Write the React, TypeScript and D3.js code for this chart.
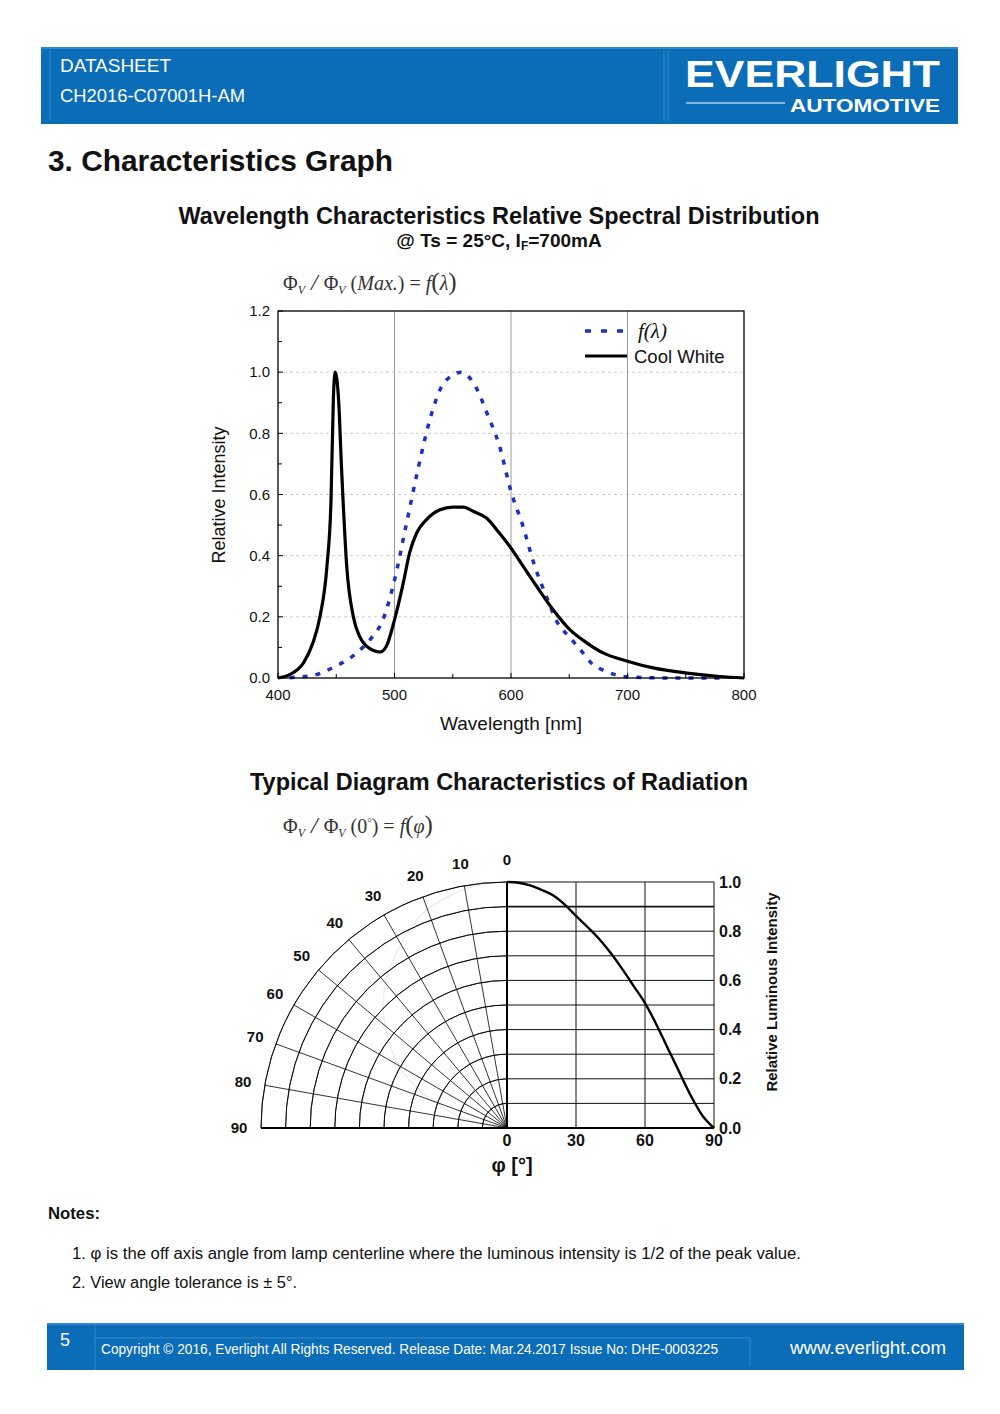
import React from "react";
import * as d3 from "d3";

// ---------- Data ----------
const cwWavelength = [400, 410, 422, 430, 436, 442, 445.5, 447.5, 449, 452, 454.5, 459, 464.7, 470, 476, 482, 487.5, 493, 500, 507.5, 513, 519, 527.5, 539, 550, 559, 567.5, 579, 590, 599, 610.5, 622, 636, 650.5, 665, 679, 700, 722, 751, 779, 800];
const cwValue = [0, 0.011, 0.05, 0.115, 0.2, 0.365, 0.58, 0.91, 1.0, 0.91, 0.69, 0.365, 0.2, 0.136, 0.104, 0.09, 0.085, 0.104, 0.19, 0.31, 0.41, 0.474, 0.518, 0.55, 0.559, 0.559, 0.545, 0.523, 0.474, 0.43, 0.365, 0.3, 0.224, 0.158, 0.115, 0.082, 0.055, 0.033, 0.016, 0.005, 0];

const vWavelength = [410, 420, 430, 440, 450, 460, 470, 480, 490, 500, 510, 520, 530, 540, 550, 557, 570, 580, 590, 600, 610, 620, 630, 640, 650, 660, 670, 680, 690, 700, 720, 740, 760, 780];
const vValue = [0.001, 0.004, 0.008, 0.021, 0.04, 0.06, 0.09, 0.13, 0.19, 0.32, 0.5, 0.68, 0.84, 0.95, 0.99, 1.0, 0.95, 0.86, 0.76, 0.61, 0.5, 0.37, 0.27, 0.18, 0.135, 0.09, 0.045, 0.024, 0.01, 0.004, 0.001, 0, 0, 0];

const xTicks = [400, 500, 600, 700, 800];
const xMinorTicks = [450, 550, 650, 750];
const yTicks = [0, 0.2, 0.4, 0.6, 0.8, 1.0, 1.2];
const yMinorTicks = [0.1, 0.3, 0.5, 0.7, 0.9, 1.1];

const radAngle = [0, 5, 10, 15, 20, 25, 30, 35, 40, 45, 50, 55, 60, 65, 70, 75, 80, 85, 90];
const radValue = [1.0, 0.997, 0.986, 0.968, 0.946, 0.909, 0.862, 0.817, 0.769, 0.712, 0.648, 0.578, 0.508, 0.42, 0.322, 0.226, 0.13, 0.05, 0];

const polarAngles = [0, 10, 20, 30, 40, 50, 60, 70, 80, 90];
const polarRings = [0.1, 0.2, 0.3, 0.4, 0.5, 0.6, 0.7, 0.8, 0.9, 1.0];
const rightXTicks = [0, 30, 60, 90];
const rightYTicks = [0, 0.2, 0.4, 0.6, 0.8, 1.0];

const BLUE = "#0b6cb7";
const SANS = "'Liberation Sans', Arial, sans-serif";
const NARROW = "'Liberation Sans Narrow', 'Liberation Sans', Arial, sans-serif";
const SERIF = "'Liberation Serif', 'Times New Roman', serif";

export default function App() {
  // Spectral chart scales
  const x = d3.scaleLinear().domain([400, 800]).range([278, 744]);
  const y = d3.scaleLinear().domain([0, 1.2]).range([678, 311]);

  const cwData = cwWavelength.map((w, i) => [w, cwValue[i]] as [number, number]);
  const vData = vWavelength.map((w, i) => [w, vValue[i]] as [number, number]);
  const line = d3
    .line<[number, number]>()
    .x((d) => x(d[0]))
    .y((d) => y(d[1]))
    .curve(d3.curveMonotoneX);

  // Polar
  const cx = 507;
  const cy = 1128;
  const r = d3.scaleLinear().domain([0, 1]).range([0, 246]);
  const toRad = (deg: number) => (deg * Math.PI) / 180;
  const px = (deg: number, v: number) => cx - r(v) * Math.sin(toRad(deg));
  const py = (deg: number, v: number) => cy - r(v) * Math.cos(toRad(deg));
  const arc = d3.arc();
  const polarCurve = d3
    .line<number>()
    .x((_, i) => px(radAngle[i], radValue[i]))
    .y((_, i) => py(radAngle[i], radValue[i]))
    .curve(d3.curveCatmullRom);

  // Right cartesian
  const xr = d3.scaleLinear().domain([0, 90]).range([507, 714]);
  const yr = d3.scaleLinear().domain([0, 1]).range([1128, 882]);
  const radLine = d3
    .line<number>()
    .x((_, i) => xr(radAngle[i]))
    .y((_, i) => yr(radValue[i]))
    .curve(d3.curveMonotoneX);

  const Formula = ({ yPos, children }: { yPos: number; children: React.ReactNode }) => (
    <text x={283} y={yPos} fontSize={20} fontFamily={SERIF} fill="#333">
      Φ<tspan fontSize={12} fontStyle="italic" dy={4}>V</tspan>
      <tspan dy={-4} fontSize={24} fontStyle="italic"> / </tspan>Φ<tspan fontSize={12} fontStyle="italic" dy={4}>V</tspan>
      <tspan dy={-4}> </tspan>
      {children}
    </text>
  );

  return (
    <svg
      width={1000}
      height={1414}
      viewBox="0 0 1000 1414"
      style={{ position: "absolute", left: 0, top: 0, background: "#fff" }}
      fontFamily={SANS}
    >
      <rect x={0} y={0} width={1000} height={1414} fill="#fff" />

      {/* Header */}
      <rect x={41} y={47} width={917} height={77} fill={BLUE} />
      <line x1={41} y1={48} x2={958} y2={48} stroke="#5aa3dc" strokeWidth={1} />
      <line x1={50} y1={50} x2={50} y2={121} stroke="#3f8fd0" strokeWidth={0.8} />
      <line x1={664} y1={50} x2={664} y2={121} stroke="#3f8fd0" strokeWidth={0.8} />
      <line x1={668} y1={50} x2={668} y2={121} stroke="#3f8fd0" strokeWidth={0.8} />
      <text x={60} y={72} fill="#fff" fontSize={18} fontFamily={NARROW} textLength={111} lengthAdjust="spacingAndGlyphs">DATASHEET</text>
      <text x={60} y={102} fill="#fff" fontSize={18} fontFamily={NARROW} textLength={185} lengthAdjust="spacingAndGlyphs">CH2016-C07001H-AM</text>
      <text x={685} y={87} fill="#fff" fontSize={36} fontWeight={900} textLength={255} lengthAdjust="spacingAndGlyphs">EVERLIGHT</text>
      <line x1={686} y1={103} x2={785} y2={103} stroke="#fff" strokeWidth={1.2} />
      <text x={790} y={112} fill="#fff" fontSize={19} fontWeight={700} textLength={150} lengthAdjust="spacingAndGlyphs">AUTOMOTIVE</text>

      {/* Section title */}
      <text x={48} y={171} fontSize={29} fontWeight={700} fill="#111" textLength={345} lengthAdjust="spacingAndGlyphs">3. Characteristics Graph</text>

      {/* Spectral chart titles */}
      <text x={499} y={224} fontSize={23} fontWeight={700} textAnchor="middle" fill="#111" textLength={641} lengthAdjust="spacingAndGlyphs">
        Wavelength Characteristics Relative Spectral Distribution
      </text>
      <text x={499} y={247} fontSize={19} fontWeight={700} textAnchor="middle" fill="#111">
        @ Ts = 25°C, I<tspan fontSize={12} dy={3}>F</tspan><tspan dy={-3}>=700mA</tspan>
      </text>

      {/* Formula 1 */}
      <Formula yPos={290}>
        (<tspan fontStyle="italic">Max.</tspan>) = <tspan fontStyle="italic">f</tspan>
        <tspan fontSize={25}>(</tspan><tspan fontStyle="italic">λ</tspan><tspan fontSize={25}>)</tspan>
      </Formula>

      {/* Spectral chart */}
      <g>
        {yTicks.filter((t) => t > 0 && t < 1.2).map((t) => (
          <line key={"hg" + t} x1={x(400)} x2={x(800)} y1={y(t)} y2={y(t)} stroke="#c0c0c0" strokeWidth={0.8} strokeDasharray="3,3" />
        ))}
        {xTicks.filter((t) => t > 400 && t < 800).map((t) => (
          <line key={"vg" + t} x1={x(t)} x2={x(t)} y1={y(0)} y2={y(1.2)} stroke="#9a9a9a" strokeWidth={1} />
        ))}
        <path d={line(vData) || ""} fill="none" stroke="#1f2fbf" strokeWidth={3.5} strokeDasharray="5,8" />
        <path d={line(cwData) || ""} fill="none" stroke="#000" strokeWidth={3.2} strokeLinejoin="round" />
        <rect x={x(400)} y={y(1.2)} width={x(800) - x(400)} height={y(0) - y(1.2)} fill="none" stroke="#000" strokeWidth={1.3} />
        {yTicks.map((t) => (
          <line key={"yt" + t} x1={x(400)} x2={x(400) + 5} y1={y(t)} y2={y(t)} stroke="#000" strokeWidth={1} />
        ))}
        {yMinorTicks.map((t) => (
          <line key={"ym" + t} x1={x(400)} x2={x(400) + 4} y1={y(t)} y2={y(t)} stroke="#000" strokeWidth={1} />
        ))}
        {xTicks.map((t) => (
          <line key={"xt" + t} x1={x(t)} x2={x(t)} y1={y(0)} y2={y(0) - 5} stroke="#000" strokeWidth={1} />
        ))}
        {xMinorTicks.map((t) => (
          <line key={"xm" + t} x1={x(t)} x2={x(t)} y1={y(0)} y2={y(0) - 4} stroke="#000" strokeWidth={1} />
        ))}
        {yTicks.map((t) => (
          <text key={"yl" + t} x={270} y={y(t)} dy="0.35em" textAnchor="end" fontSize={15} fill="#111">
            {t.toFixed(1)}
          </text>
        ))}
        {xTicks.map((t) => (
          <text key={"xl" + t} x={x(t)} y={700} textAnchor="middle" fontSize={15} fill="#111">
            {t}
          </text>
        ))}
        <text x={511} y={730} textAnchor="middle" fontSize={19} fill="#111">Wavelength [nm]</text>
        <text transform={`translate(225,495) rotate(-90)`} textAnchor="middle" fontSize={18} fill="#111">
          Relative Intensity
        </text>
        {/* legend */}
        <line x1={585} x2={624} y1={331} y2={331} stroke="#1f2fbf" strokeWidth={3.5} strokeDasharray="6,10" />
        <text x={638} y={338} fontSize={21} fontFamily={SERIF} fontStyle="italic" fill="#111">f(λ)</text>
        <line x1={585} x2={627} y1={356} y2={356} stroke="#000" strokeWidth={3.2} />
        <text x={634} y={363} fontSize={18.5} fill="#111">Cool White</text>
      </g>

      {/* Radiation title */}
      <text x={499} y={790} fontSize={23} fontWeight={700} textAnchor="middle" fill="#111" textLength={498} lengthAdjust="spacingAndGlyphs">
        Typical Diagram Characteristics of Radiation
      </text>
      <Formula yPos={833}>
        (0<tspan fontSize={11} dy={-7}>°</tspan><tspan dy={7}>) = </tspan><tspan fontStyle="italic">f</tspan>
        <tspan fontSize={25}>(</tspan><tspan fontStyle="italic">φ</tspan><tspan fontSize={25}>)</tspan>
      </Formula>

      {/* Polar quadrant */}
      <g>
        <path d={polarCurve(radAngle) || ""} fill="none" stroke="#ededed" strokeWidth={1.5} />
        {polarRings.map((v) => (
          <path
            key={"ring" + v}
            transform={`translate(${cx},${cy})`}
            d={arc({ innerRadius: r(v), outerRadius: r(v), startAngle: -Math.PI / 2, endAngle: 0 }) || ""}
            fill="none"
            stroke="#000"
            strokeWidth={0.8}
          />
        ))}
        {polarAngles.filter((a) => a > 0 && a < 90).map((a) => (
          <line key={"rad" + a} x1={cx} y1={cy} x2={px(a, 1)} y2={py(a, 1)} stroke="#000" strokeWidth={0.8} />
        ))}
        {polarAngles.map((a) => (
          <text
            key={"pl" + a}
            x={cx - 268 * Math.sin(toRad(a))}
            y={cy - 268 * Math.cos(toRad(a))}
            dy="0.35em"
            textAnchor="middle"
            fontSize={15}
            fontWeight={700}
            fill="#111"
          >
            {a}
          </text>
        ))}
      </g>

      {/* Right cartesian */}
      <g>
        {polarRings.map((v) => (
          <line key={"rh" + v} x1={xr(0)} x2={xr(90)} y1={yr(v)} y2={yr(v)} stroke="#111" strokeWidth={v === 0.9 ? 1.6 : 1} />
        ))}
        {rightXTicks.filter((t) => t > 0).map((t) => (
          <line key={"rv" + t} x1={xr(t)} x2={xr(t)} y1={yr(0)} y2={yr(1)} stroke="#111" strokeWidth={1} />
        ))}
        <path d={radLine(radAngle) || ""} fill="none" stroke="#000" strokeWidth={2.4} />
        {rightYTicks.map((t) => (
          <text key={"ry" + t} x={719} y={yr(t)} dy="0.35em" fontSize={16} fontWeight={700} fill="#111">
            {t.toFixed(1)}
          </text>
        ))}
        {rightXTicks.map((t) => (
          <text key={"rx" + t} x={xr(t)} y={1146} textAnchor="middle" fontSize={16} fontWeight={700} fill="#111">
            {t}
          </text>
        ))}
        <text x={512} y={1172} textAnchor="middle" fontSize={20} fontWeight={700} fill="#111">φ [°]</text>
        <text transform="translate(777,992) rotate(-90)" textAnchor="middle" fontSize={15} fontWeight={700} fill="#111">
          Relative Luminous Intensity
        </text>
      </g>
      <line x1={cx - r(1)} x2={xr(90)} y1={cy} y2={cy} stroke="#000" strokeWidth={2.2} />
      <line x1={cx} x2={cx} y1={yr(1)} y2={cy} stroke="#000" strokeWidth={2} />

      {/* Notes */}
      <text x={48} y={1219} fontSize={16} fontWeight={700} fontFamily={NARROW} fill="#111" textLength={52} lengthAdjust="spacingAndGlyphs">Notes:</text>
      <text x={72} y={1259} fontSize={16} fontFamily={NARROW} fill="#111" textLength={729} lengthAdjust="spacingAndGlyphs">
        1. φ is the off axis angle from lamp centerline where the luminous intensity is 1/2 of the peak value.
      </text>
      <text x={72} y={1288} fontSize={16} fontFamily={NARROW} fill="#111" textLength={225} lengthAdjust="spacingAndGlyphs">
        2. View angle tolerance is ± 5°.
      </text>

      {/* Footer */}
      <rect x={47} y={1323} width={917} height={47} fill={BLUE} />
      <line x1={47} y1={1324} x2={964} y2={1324} stroke="#5aa3dc" strokeWidth={1} />
      <line x1={95} y1={1324} x2={95} y2={1370} stroke="#3f8fd0" strokeWidth={0.8} />
      <line x1={95} y1={1338} x2={750} y2={1338} stroke="#3f8fd0" strokeWidth={0.8} />
      <line x1={750} y1={1338} x2={750} y2={1366} stroke="#3f8fd0" strokeWidth={0.8} />
      <text x={60} y={1346} fill="#fff" fontSize={18}>5</text>
      <text x={101} y={1354} fill="#fff" fontSize={14} fontFamily={NARROW} textLength={617} lengthAdjust="spacingAndGlyphs">
        Copyright © 2016, Everlight All Rights Reserved. Release Date: Mar.24.2017   Issue No: DHE-0003225
      </text>
      <text x={790} y={1354} fill="#fff" fontSize={18} fontFamily={NARROW} textLength={156} lengthAdjust="spacingAndGlyphs">www.everlight.com</text>
    </svg>
  );
}
